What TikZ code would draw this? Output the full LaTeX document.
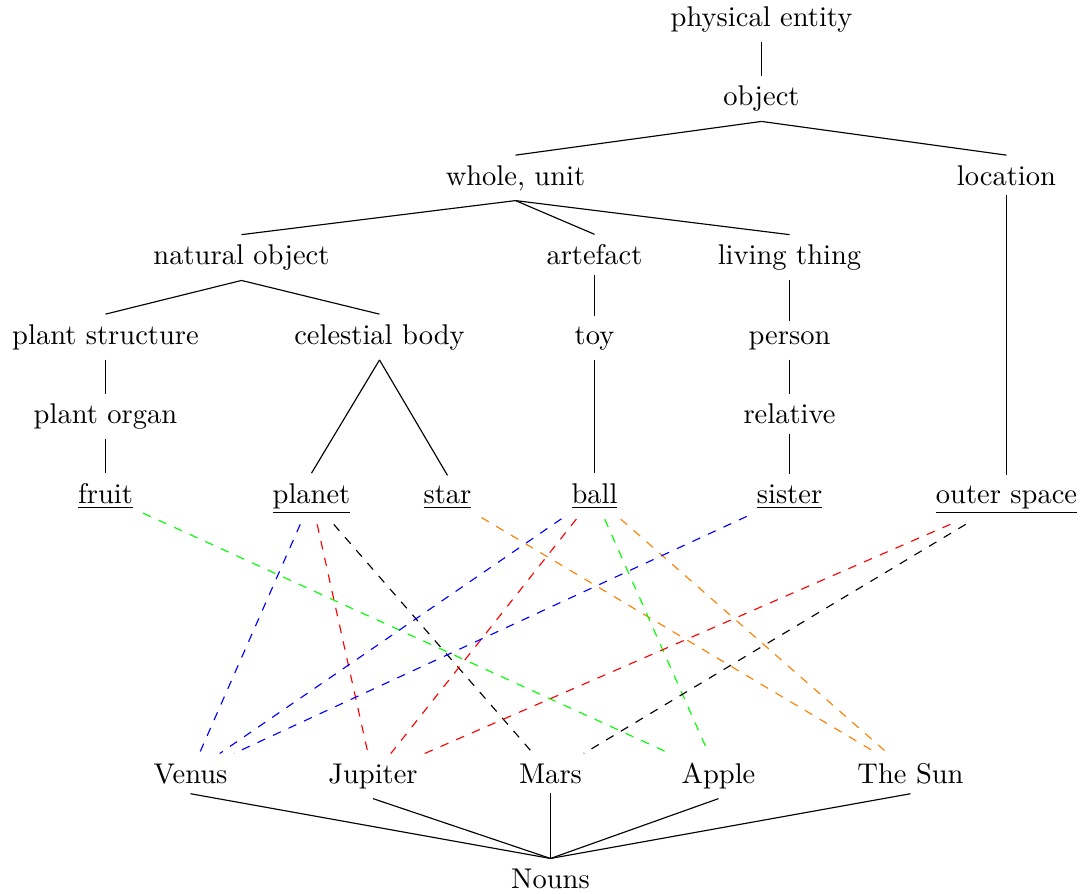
\documentclass[tikz,border=0pt]{standalone}
\usepackage{tikz}
\usetikzlibrary{arrows}

\begin{document}
\begin{tikzpicture}[x=0.3506pt,y=-0.3506pt, mot/.style={anchor=base}]
    \useasboundingbox (-0.5,0) rectangle (1083.5,893);

    % Hierarchie des hyperonymes
    \node[mot] (entity) at (761,26) {physical entity};
    \node[mot] (object) at (761,105.5) {object};
    \node[mot] (whole) at (515,185) {whole, unit};
    \node[mot] (location) at (1006,185) {location};
    \node[mot] (natobj) at (241,264.5) {natural object};
    \node[mot] (artefact) at (594,264.5) {artefact};
    \node[mot] (living) at (789,264.5) {living thing};
    \node[mot] (plantstr) at (105,344) {plant structure};
    \node[mot] (celestial) at (379,344) {celestial body};
    \node[mot] (toy) at (594,344) {toy};
    \node[mot] (person) at (789,344) {person};
    \node[mot] (organ) at (105,423.5) {plant organ};
    \node[mot] (relative) at (789,423.5) {relative};
    \node[mot] (fruit) at (105,503) {\underline{fruit}};
    \node[mot] (planet) at (311,503) {\underline{planet}};
    \node[mot] (star) at (447,503) {\underline{star}};
    \node[mot] (ball) at (594,503) {\underline{ball}};
    \node[mot] (sister) at (789,503) {\underline{sister}};
    \node[mot] (space) at (1006,503) {\underline{outer space}};

    \draw (entity.south) -- (object.north);
    \draw (object.south) -- (whole.north);
    \draw (object.south) -- (location.north);
    \draw (whole.south) -- (natobj.north);
    \draw (whole.south) -- (artefact.north);
    \draw (whole.south) -- (living.north);
    \draw (natobj.south) -- (plantstr.north);
    \draw (natobj.south) -- (celestial.north);
    \draw (plantstr.south) -- (organ.north);
    \draw (organ.south) -- (fruit.north);
    \draw (celestial.south) -- (planet.north);
    \draw (celestial.south) -- (star.north);
    \draw (artefact.south) -- (toy.north);
    \draw (toy.south) -- (ball.north);
    \draw (living.south) -- (person.north);
    \draw (person.south) -- (relative.north);
    \draw (relative.south) -- (sister.north);
    \draw (location.south) -- (space.north);

    % Noms
    \node[mot] (venus) at (190,783) {Venus};
    \node[mot] (jupiter) at (372.5,783) {Jupiter};
    \node[mot] (mars) at (550,783) {Mars};
    \node[mot] (apple) at (718,783) {Apple};
    \node[mot] (sun) at (910,783) {The Sun};
    \node[mot] (nouns) at (550,888) {Nouns};

    \draw (venus.south) -- (nouns.north);
    \draw (jupiter.south) -- (nouns.north);
    \draw (mars.south) -- (nouns.north);
    \draw (apple.south) -- (nouns.north);
    \draw (sun.south) -- (nouns.north);

    % Liens en pointilles
    \draw[dashed, green] (fruit) -- (apple);
    \draw[dashed, blue] (planet) -- (venus);
    \draw[dashed, red] (planet) -- (jupiter);
    \draw[dashed, black] (planet) -- (mars);
    \draw[dashed, orange] (star) -- (sun);
    \draw[dashed, blue] (ball) -- (venus);
    \draw[dashed, red] (ball) -- (jupiter);
    \draw[dashed, green] (ball) -- (apple);
    \draw[dashed, orange] (ball) -- (sun);
    \draw[dashed, blue] (sister) -- (venus);
    \draw[dashed, red] (space) -- (jupiter);
    \draw[dashed, black] (space) -- (mars);
\end{tikzpicture}
\end{document}
